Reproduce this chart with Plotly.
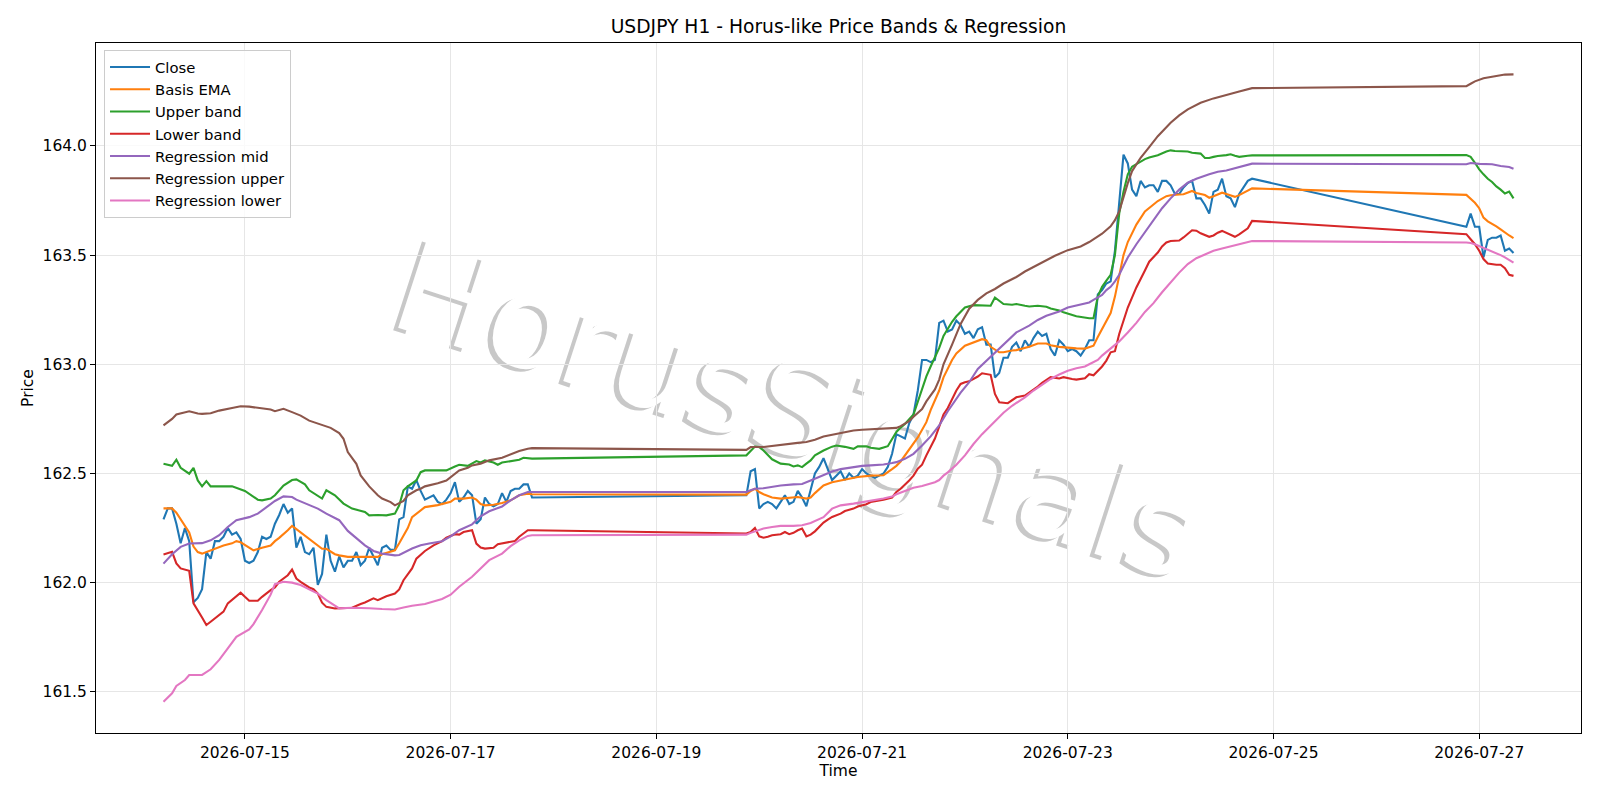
import pandas as pd
import plotly.graph_objects as go

# ---------------- data (hour offsets from 2026-07-14 05:00, H1 bars) ----------------
START = "2026-07-14 05:00"
seg_hours = [(0, 86), (136, 254), (304, 315)]  # trading sessions (weekend gaps)

close_a = [
    162.29, 162.34, 162.34, 162.27, 162.18, 162.25, 162.19, 161.91, 161.93, 161.97,
    162.14, 162.11, 162.19, 162.19, 162.21, 162.25, 162.22, 162.23, 162.20, 162.10,
    162.09, 162.10, 162.14, 162.21, 162.20, 162.21, 162.27, 162.31, 162.36, 162.32,
    162.34, 162.16, 162.21, 162.14, 162.13, 162.16, 161.99, 162.04, 162.22, 162.10,
    162.05, 162.12, 162.07, 162.10, 162.10, 162.14, 162.08, 162.10, 162.16, 162.12,
    162.08, 162.16, 162.17, 162.15, 162.15, 162.29, 162.30, 162.44, 162.43, 162.47,
    162.42, 162.38, 162.39, 162.40, 162.37, 162.36, 162.38, 162.41, 162.46, 162.37,
    162.39, 162.42, 162.40, 162.27, 162.29, 162.39, 162.36, 162.35, 162.36, 162.41,
    162.37, 162.42, 162.43, 162.43, 162.45, 162.45, 162.39]
close_b = [
    162.40, 162.51, 162.52, 162.34, 162.36, 162.37, 162.36, 162.34, 162.37, 162.40,
    162.36, 162.37, 162.42, 162.39, 162.35, 162.42, 162.50, 162.53, 162.57, 162.52,
    162.47, 162.49, 162.51, 162.47, 162.50, 162.48, 162.49, 162.52, 162.50, 162.49,
    162.48, 162.49, 162.50, 162.53, 162.59, 162.68, 162.67, 162.66, 162.73, 162.77,
    162.88, 163.02, 163.02, 163.01, 163.02, 163.19, 163.20, 163.15, 163.16, 163.20,
    163.18, 163.14, 163.15, 163.12, 163.16, 163.17, 163.09, 163.09, 162.94, 162.96,
    163.03, 163.03, 163.08, 163.10, 163.06, 163.11, 163.08, 163.12, 163.15, 163.13,
    163.14, 163.07, 163.04, 163.11, 163.09, 163.06, 163.07, 163.06, 163.04, 163.07,
    163.11, 163.11, 163.32, 163.34, 163.37, 163.38, 163.52, 163.75, 163.96, 163.92,
    163.80, 163.77, 163.84, 163.81, 163.82, 163.82, 163.79, 163.84, 163.84, 163.82,
    163.78, 163.78, 163.81, 163.83, 163.84, 163.76, 163.76, 163.73, 163.69, 163.79,
    163.80, 163.85, 163.77, 163.76, 163.72, 163.78, 163.81, 163.84, 163.85]
close_c = [163.63, 163.69, 163.63, 163.63, 163.49, 163.57, 163.58, 163.58, 163.59, 163.52,
           163.53, 163.51]

ema_pts = [
    (0, 162.34), (2, 162.34), (3, 162.32), (4, 162.29), (6, 162.23), (7, 162.165), (8, 162.14),
    (9, 162.133), (10, 162.14), (12, 162.155), (14, 162.17), (16, 162.18), (17, 162.19),
    (18, 162.185), (20, 162.16), (21, 162.148), (23, 162.16), (25, 162.17), (26, 162.19),
    (27, 162.205), (29, 162.24), (30, 162.26), (31, 162.245), (33, 162.215), (34, 162.20),
    (36, 162.17), (37, 162.155), (38, 162.155), (40, 162.13), (41, 162.125), (43, 162.118),
    (47, 162.118), (50, 162.118), (51, 162.13), (53, 162.14), (54, 162.148), (55, 162.18),
    (57, 162.25), (58, 162.30), (60, 162.33), (61, 162.346), (64, 162.355), (67, 162.37),
    (68, 162.385), (70, 162.385), (72, 162.39), (73, 162.38), (74, 162.36), (75, 162.354),
    (77, 162.357), (79, 162.365), (81, 162.377), (83, 162.40), (85, 162.407), (86, 162.405),
    (136, 162.403), (137, 162.42), (138, 162.43), (139, 162.415), (140, 162.405), (142, 162.39),
    (144, 162.385), (146, 162.387), (148, 162.392), (150, 162.385), (151, 162.39), (152, 162.41),
    (154, 162.445), (156, 162.46), (158, 162.468), (160, 162.476), (162, 162.484), (165, 162.49),
    (167, 162.49), (168, 162.492), (170, 162.52), (171, 162.535), (172, 162.555), (174, 162.61),
    (175, 162.635), (176, 162.665), (178, 162.735), (179, 162.79), (181, 162.88), (182, 162.94),
    (184, 163.02), (185, 163.05), (187, 163.085), (189, 163.10), (190, 163.108), (191, 163.115),
    (192, 163.11), (193, 163.08), (195, 163.055), (196, 163.055), (198, 163.063), (199, 163.065),
    (202, 163.08), (204, 163.095), (206, 163.095), (207, 163.087), (209, 163.08), (210, 163.078),
    (213, 163.073), (215, 163.072), (217, 163.085), (218, 163.125), (219, 163.16), (220, 163.20),
    (221, 163.235), (222, 163.31), (223, 163.40), (224, 163.50), (225, 163.56), (226, 163.60),
    (227, 163.64), (229, 163.70), (230, 163.715), (232, 163.748), (234, 163.77), (235, 163.774),
    (237, 163.778), (238, 163.779), (240, 163.794), (241, 163.785), (243, 163.775), (244, 163.763),
    (245, 163.77), (247, 163.786), (248, 163.78), (250, 163.767), (251, 163.775), (253, 163.794),
    (254, 163.806),
    (304, 163.776), (305, 163.76), (306, 163.74), (307, 163.715), (308, 163.672), (309, 163.655),
    (310, 163.645), (311, 163.632), (312, 163.618), (313, 163.603), (314, 163.59), (315, 163.578)]

upper_pts = [
    (0, 162.545), (2, 162.535), (3, 162.563), (4, 162.526), (6, 162.499), (7, 162.526), (8, 162.468),
    (9, 162.441), (10, 162.465), (11, 162.441), (14, 162.441), (16, 162.441), (19, 162.42),
    (20, 162.408), (22, 162.38), (23, 162.377), (25, 162.385), (26, 162.40), (28, 162.445),
    (30, 162.47), (31, 162.473), (33, 162.45), (34, 162.423), (37, 162.385), (38, 162.423),
    (40, 162.40), (42, 162.362), (44, 162.339), (47, 162.324), (48, 162.308), (50, 162.31),
    (52, 162.308), (54, 162.316), (55, 162.354), (56, 162.423), (57, 162.441), (59, 162.468),
    (60, 162.506), (61, 162.514), (64, 162.514), (66, 162.514), (68, 162.532), (69, 162.54),
    (71, 162.535), (72, 162.545), (73, 162.557), (74, 162.55), (75, 162.56), (77, 162.55),
    (78, 162.54), (79, 162.55), (81, 162.555), (83, 162.563), (84, 162.572), (86, 162.568),
    (136, 162.583), (137, 162.605), (138, 162.623), (139, 162.621), (140, 162.605), (142, 162.565),
    (144, 162.545), (146, 162.541), (147, 162.532), (148, 162.537), (149, 162.529), (150, 162.545),
    (151, 162.56), (152, 162.583), (154, 162.605), (156, 162.623), (157, 162.628), (159, 162.622),
    (161, 162.613), (162, 162.624), (164, 162.625), (165, 162.618), (167, 162.613), (169, 162.625),
    (170, 162.655), (171, 162.69), (172, 162.71), (173, 162.727), (175, 162.77), (176, 162.83),
    (177, 162.895), (178, 162.945), (179, 162.99), (180, 163.03), (181, 163.075), (182, 163.13),
    (184, 163.195), (185, 163.22), (187, 163.26), (189, 163.271), (191, 163.269), (193, 163.268),
    (194, 163.306), (195, 163.29), (196, 163.276), (198, 163.273), (199, 163.276), (201, 163.268),
    (202, 163.265), (204, 163.268), (206, 163.264), (207, 163.256), (209, 163.247), (210, 163.238),
    (212, 163.227), (213, 163.22), (216, 163.211), (217, 163.211), (218, 163.31), (219, 163.355),
    (220, 163.383), (221, 163.41), (222, 163.50), (223, 163.69), (224, 163.79), (225, 163.87),
    (226, 163.905), (227, 163.918), (229, 163.94), (230, 163.947), (232, 163.958), (234, 163.975),
    (235, 163.98), (236, 163.977), (239, 163.975), (240, 163.969), (242, 163.965), (243, 163.945),
    (244, 163.945), (245, 163.95), (246, 163.954), (248, 163.958), (249, 163.962), (250, 163.955),
    (251, 163.95), (253, 163.955), (254, 163.957),
    (304, 163.958), (305, 163.95), (306, 163.923), (307, 163.893), (308, 163.87), (309, 163.85),
    (310, 163.835), (311, 163.815), (312, 163.80), (313, 163.782), (314, 163.791), (315, 163.76)]

lower_pts = [
    (0, 162.129), (2, 162.141), (3, 162.088), (4, 162.065), (6, 162.054), (7, 161.905), (9, 161.84),
    (10, 161.806), (11, 161.821), (13, 161.851), (14, 161.867), (15, 161.905), (16, 161.92),
    (18, 161.954), (19, 161.935), (20, 161.917), (22, 161.917), (23, 161.935), (25, 161.966),
    (26, 161.978), (27, 162.004), (29, 162.034), (30, 162.06), (31, 162.019), (32, 162.004),
    (34, 161.978), (35, 161.97), (36, 161.95), (37, 161.908), (38, 161.889), (40, 161.882),
    (42, 161.885), (44, 161.885), (46, 161.902), (47, 161.909), (49, 161.928), (50, 161.92),
    (52, 161.938), (54, 161.95), (55, 161.969), (56, 162.011), (58, 162.065), (59, 162.11),
    (61, 162.145), (63, 162.171), (65, 162.19), (66, 162.206), (68, 162.222), (69, 162.22),
    (70, 162.232), (71, 162.237), (72, 162.24), (73, 162.179), (74, 162.161), (75, 162.156),
    (77, 162.16), (78, 162.176), (80, 162.182), (81, 162.185), (82, 162.191), (83, 162.21),
    (85, 162.24), (86, 162.24),
    (136, 162.225), (137, 162.232), (138, 162.25), (139, 162.212), (140, 162.206), (141, 162.21),
    (142, 162.217), (144, 162.222), (145, 162.232), (146, 162.222), (147, 162.228), (148, 162.24),
    (149, 162.248), (150, 162.212), (151, 162.22), (152, 162.235), (154, 162.275), (155, 162.289),
    (156, 162.301), (158, 162.316), (159, 162.328), (161, 162.339), (162, 162.349), (164, 162.359),
    (165, 162.369), (168, 162.38), (170, 162.39), (171, 162.415), (172, 162.43), (174, 162.468),
    (175, 162.49), (176, 162.522), (177, 162.54), (178, 162.583), (179, 162.62), (180, 162.66),
    (181, 162.715), (182, 162.77), (183, 162.80), (184, 162.84), (185, 162.88), (186, 162.91),
    (187, 162.918), (188, 162.922), (190, 162.944), (191, 162.959), (192, 162.955), (193, 162.952),
    (194, 162.864), (195, 162.826), (197, 162.822), (198, 162.834), (199, 162.849), (201, 162.857),
    (202, 162.87), (204, 162.898), (205, 162.915), (206, 162.93), (207, 162.941), (209, 162.935),
    (210, 162.941), (212, 162.933), (213, 162.93), (215, 162.936), (216, 162.955), (217, 162.95),
    (218, 162.97), (219, 162.99), (220, 163.017), (221, 163.055), (222, 163.06), (223, 163.139),
    (225, 163.26), (227, 163.352), (229, 163.43), (230, 163.47), (232, 163.512), (233, 163.54),
    (234, 163.558), (235, 163.565), (237, 163.567), (238, 163.581), (240, 163.614), (241, 163.612),
    (242, 163.60), (244, 163.584), (245, 163.59), (246, 163.603), (247, 163.611), (248, 163.603),
    (250, 163.584), (251, 163.595), (253, 163.623), (254, 163.657),
    (304, 163.596), (305, 163.573), (306, 163.55), (307, 163.52), (308, 163.482), (309, 163.462),
    (310, 163.458), (311, 163.456), (312, 163.456), (313, 163.44), (314, 163.41), (315, 163.405)]

reg_mid_pts = [
    (0, 162.087), (2, 162.13), (4, 162.164), (6, 162.179), (9, 162.181), (11, 162.194), (13, 162.217),
    (15, 162.255), (17, 162.286), (20, 162.30), (22, 162.316), (24, 162.346), (26, 162.374),
    (28, 162.395), (30, 162.392), (31, 162.38), (34, 162.355), (36, 162.339), (38, 162.316),
    (41, 162.286), (43, 162.237), (45, 162.202), (47, 162.171), (49, 162.145), (51, 162.133),
    (54, 162.125), (55, 162.127), (58, 162.156), (60, 162.171), (62, 162.179), (65, 162.19),
    (67, 162.212), (69, 162.24), (72, 162.267), (74, 162.304), (76, 162.327), (79, 162.349),
    (81, 162.377), (83, 162.40), (85, 162.415), (86, 162.415),
    (136, 162.415), (137, 162.423), (138, 162.43), (140, 162.432), (142, 162.438), (144, 162.445),
    (147, 162.45), (149, 162.452), (151, 162.468), (154, 162.491), (156, 162.509), (158, 162.52),
    (161, 162.53), (163, 162.535), (165, 162.537), (168, 162.541), (170, 162.548), (171, 162.552),
    (173, 162.567), (175, 162.59), (177, 162.628), (179, 162.67), (181, 162.72), (183, 162.785),
    (186, 162.87), (188, 162.918), (190, 162.979), (193, 163.035), (195, 163.07), (197, 163.108),
    (199, 163.146), (202, 163.177), (204, 163.203), (206, 163.222), (209, 163.242), (211, 163.26),
    (213, 163.27), (216, 163.283), (217, 163.295), (219, 163.318), (220, 163.34), (221, 163.355),
    (222, 163.38), (223, 163.41), (224, 163.45), (225, 163.489), (227, 163.55), (229, 163.605),
    (231, 163.662), (233, 163.715), (235, 163.76), (237, 163.80), (239, 163.832), (241, 163.85),
    (244, 163.87), (246, 163.882), (248, 163.888), (251, 163.902), (253, 163.913), (254, 163.919),
    (304, 163.916), (305, 163.922), (307, 163.918), (310, 163.916), (312, 163.908), (314, 163.904),
    (315, 163.896)]

reg_upper_pts = [
    (0, 162.72), (2, 162.75), (3, 162.77), (5, 162.781), (6, 162.785), (8, 162.775), (9, 162.773),
    (11, 162.776), (13, 162.788), (16, 162.80), (18, 162.808), (20, 162.806), (23, 162.80),
    (25, 162.793), (26, 162.785), (27, 162.79), (28, 162.796), (30, 162.781), (32, 162.765),
    (34, 162.742), (37, 162.723), (39, 162.709), (41, 162.685), (42, 162.659), (43, 162.598),
    (45, 162.544), (46, 162.491), (48, 162.441), (50, 162.40), (51, 162.385), (53, 162.369),
    (54, 162.354), (56, 162.374), (57, 162.40), (59, 162.423), (60, 162.43), (61, 162.441),
    (64, 162.455), (66, 162.468), (68, 162.499), (69, 162.514), (71, 162.526), (72, 162.537),
    (74, 162.545), (76, 162.56), (79, 162.572), (81, 162.587), (83, 162.603), (85, 162.613),
    (86, 162.616),
    (136, 162.608), (137, 162.621), (140, 162.621), (143, 162.628), (145, 162.636), (148, 162.64),
    (150, 162.644), (152, 162.654), (154, 162.669), (157, 162.682), (159, 162.689), (161, 162.697),
    (163, 162.70), (166, 162.703), (169, 162.704), (171, 162.709), (172, 162.717), (174, 162.74),
    (175, 162.76), (177, 162.795), (178, 162.83), (180, 162.885), (181, 162.93), (182, 163.0),
    (184, 163.09), (186, 163.185), (188, 163.255), (190, 163.295), (192, 163.325), (194, 163.345),
    (196, 163.37), (199, 163.40), (201, 163.425), (203, 163.445), (205, 163.466), (208, 163.497),
    (211, 163.523), (214, 163.54), (216, 163.56), (219, 163.598), (221, 163.632), (222, 163.66),
    (223, 163.70), (224, 163.77), (225, 163.83), (226, 163.885), (228, 163.946), (230, 163.995),
    (232, 164.045), (235, 164.106), (237, 164.14), (239, 164.168), (240, 164.178), (242, 164.198),
    (245, 164.218), (248, 164.235), (251, 164.25), (254, 164.265),
    (304, 164.274), (305, 164.285), (306, 164.296), (308, 164.31), (310, 164.318), (313, 164.327),
    (315, 164.328)]

reg_lower_pts = [
    (0, 161.455), (2, 161.493), (3, 161.527), (5, 161.554), (6, 161.577), (9, 161.577), (11, 161.603),
    (13, 161.646), (15, 161.699), (17, 161.752), (20, 161.786), (21, 161.81), (23, 161.875),
    (25, 161.945), (26, 161.993), (28, 162.004), (30, 162.0), (32, 161.989), (34, 161.969),
    (36, 161.95), (38, 161.92), (40, 161.897), (41, 161.882), (44, 161.885), (46, 161.885),
    (48, 161.883), (51, 161.879), (54, 161.877), (56, 161.886), (58, 161.894), (61, 161.902),
    (63, 161.912), (65, 161.925), (67, 161.945), (69, 161.981), (72, 162.027), (74, 162.065),
    (76, 162.103), (79, 162.133), (81, 162.167), (83, 162.194), (85, 162.214), (86, 162.217),
    (136, 162.22), (137, 162.228), (138, 162.235), (140, 162.248), (142, 162.255), (144, 162.26),
    (147, 162.26), (149, 162.263), (151, 162.273), (154, 162.30), (156, 162.339), (158, 162.354),
    (161, 162.362), (163, 162.368), (165, 162.375), (168, 162.385), (170, 162.395), (171, 162.405),
    (173, 162.42), (175, 162.435), (177, 162.443), (179, 162.452), (180, 162.46), (181, 162.47),
    (182, 162.49), (183, 162.505), (185, 162.54), (187, 162.583), (189, 162.635), (191, 162.68),
    (193, 162.72), (194, 162.74), (196, 162.778), (198, 162.81), (201, 162.849), (203, 162.88),
    (205, 162.908), (207, 162.933), (209, 162.953), (211, 162.97), (213, 162.982), (215, 162.99),
    (216, 163.0), (218, 163.02), (219, 163.04), (221, 163.072), (222, 163.09), (223, 163.105),
    (225, 163.146), (227, 163.19), (229, 163.24), (231, 163.28), (233, 163.33), (235, 163.375),
    (237, 163.42), (239, 163.459), (241, 163.486), (243, 163.503), (245, 163.52), (247, 163.53),
    (249, 163.54), (251, 163.55), (253, 163.56), (254, 163.565),
    (304, 163.558), (305, 163.556), (306, 163.55), (307, 163.542), (308, 163.533), (309, 163.525),
    (310, 163.515), (311, 163.508), (312, 163.50), (313, 163.49), (314, 163.478), (315, 163.466)]

series_names = ["Close", "Basis EMA", "Upper band", "Lower band",
                "Regression mid", "Regression upper", "Regression lower"]
series_colors = ["#1f77b4", "#ff7f0e", "#2ca02c", "#d62728", "#9467bd", "#8c564b", "#e377c2"]

title_text = "USDJPY H1 - Horus-like Price Bands & Regression"
watermark_text = "HorusSignals"

# ---------------- build ----------------
base = pd.Timestamp(START)


def to_time(hours):
    return [base + pd.Timedelta(hours=float(h)) for h in hours]


close_hours = []
for a, b in seg_hours:
    close_hours += list(range(a, b + 1))
close_vals = close_a + close_b + close_c

series = [(close_hours, close_vals)]
for pts in [ema_pts, upper_pts, lower_pts, reg_mid_pts, reg_upper_pts, reg_lower_pts]:
    series.append(([p[0] for p in pts], [p[1] for p in pts]))

FONT = "DejaVu Sans"
FS = 15.5
fig = go.Figure()
for i, ((hrs, vals), name, col) in enumerate(zip(series, series_names, series_colors)):
    fig.add_trace(go.Scatter(x=to_time(hrs), y=vals, mode="lines", name=name,
                             line=dict(color=col, width=2.1)))

# axis ranges with 5% margins (matplotlib style)
all_h = [h for hrs, _ in series for h in hrs]
all_v = [v for _, vals in series for v in vals]
h0, h1 = min(all_h), max(all_h)
hp = 0.05 * (h1 - h0)
v0, v1 = min(all_v), max(all_v)
vp = 0.05 * (v1 - v0)
xr = to_time([h0 - hp, h1 + hp])

tick_dates = pd.date_range("2026-07-15", "2026-07-27", freq="2D")

fig.update_layout(
    width=1600, height=800,
    margin=dict(l=96, r=19, t=43, b=67),
    paper_bgcolor="white", plot_bgcolor="white",
    font=dict(family=FONT, size=FS, color="black"),
    title=dict(text=title_text, x=0.5, xref="paper", xanchor="center",
               y=1 - 26 / 800, yref="container", yanchor="middle",
               font=dict(family=FONT, size=18.7, color="black")),
    showlegend=True,
    legend=dict(x=0.0054, y=0.99, xanchor="left", yanchor="top",
                bgcolor="rgba(255,255,255,0.8)", bordercolor="#cccccc", borderwidth=1,
                font=dict(family=FONT, size=14.8, color="black"),
                itemwidth=40, traceorder="normal"),
    shapes=[dict(type="rect", xref="paper", yref="paper",
                 x0=0.464, x1=0.484, y0=0.470, y1=0.490,
                 line=dict(width=0), fillcolor="rgba(0,0,0,0)", layer="below",
                 label=dict(text=watermark_text, textposition="middle center", textangle=18,
                            font=dict(family=FONT, size=128, color="white",
                                      shadow="-4px 4px 0px #c8c8c8")))],
)
fig.update_xaxes(
    range=xr, showgrid=True, gridcolor="#e6e6e6", gridwidth=1,
    tickvals=list(tick_dates), ticktext=[d.strftime("%Y-%m-%d") for d in tick_dates],
    ticks="outside", ticklen=5, tickwidth=1, tickcolor="black",
    showline=True, linecolor="black", linewidth=1, mirror=True, zeroline=False,
    title=dict(text="Time", font=dict(family=FONT, size=FS), standoff=4),
)
fig.update_yaxes(
    range=[v0 - vp, v1 + vp], showgrid=True, gridcolor="#e6e6e6", gridwidth=1,
    tickvals=[161.5, 162.0, 162.5, 163.0, 163.5, 164.0], tickformat=".1f",
    ticks="outside", ticklen=5, tickwidth=1, tickcolor="black",
    showline=True, linecolor="black", linewidth=1, mirror=True, zeroline=False,
    title=dict(text="Price", font=dict(family=FONT, size=FS), standoff=5),
)

fig.write_html("out.html")
